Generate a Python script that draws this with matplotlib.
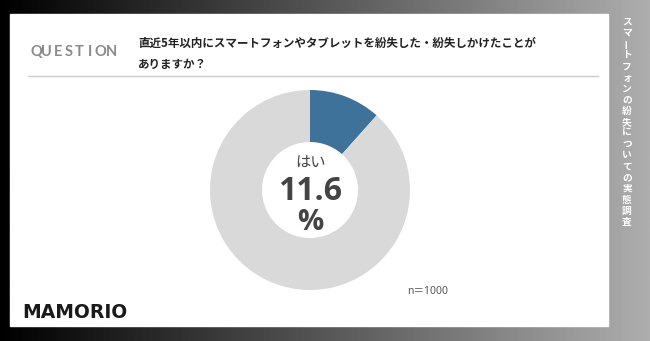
import matplotlib.pyplot as plt
import numpy as np
from matplotlib.patches import Rectangle

plt.rcParams['font.family'] = ['Noto Sans CJK JP', 'DejaVu Sans']

# data
labels = ["はい", "いいえ"]
shares = [11.6, 88.4]
colors = ["#3e729b", "#d9d9d9"]
question = ["直近5年以内にスマートフォンやタブレットを紛失した・紛失しかけたことが",
            "ありますか？"]
side_title = "スマートフォンの紛失についての実態調査"
n_label = "n＝1000"

W, H = 650, 341
fig = plt.figure(figsize=(W / 100, H / 100), dpi=100)

# background in pixel coordinates
bg = fig.add_axes([0, 0, 1, 1])
bg.set_xlim(0, W)
bg.set_ylim(H, 0)
bg.axis("off")
grad = np.linspace(0.0, 0.68, 256).reshape(1, -1)
bg.imshow(grad, cmap="gray", vmin=0, vmax=1, extent=[0, W, H, 0], aspect="auto")
bg.add_patch(Rectangle((10, 14), 598, 312, color="white", zorder=2))
bg.plot([28, 598], [76, 76], color="#cccccc", lw=1, zorder=3)

# spaced-out "QUESTION" label
for i, ch in enumerate("QUESTION"):
    bg.text(36 + i * 10.8, 52, ch, color="#8a8a8a", fontsize=10.5,
            fontweight="bold", ha="center", va="center", zorder=4,
            family=["Lato", "DejaVu Sans"])
bg.text(138, 43, question[0], fontsize=8.3, fontweight="bold", color="#222222",
        ha="left", va="center", zorder=4)
bg.text(138, 64, question[1], fontsize=8.3, fontweight="bold", color="#222222",
        ha="left", va="center", zorder=4)
bg.text(407, 292, n_label, fontsize=7.5, color="#555555", ha="left",
        va="center", zorder=4, family=["Noto Sans", "Noto Sans CJK JP"])
bg.text(22, 312, "MAMORIO", fontsize=13.5, fontweight="bold", color="#1a1a1a",
        ha="left", va="center", zorder=4, family=["DejaVu Sans"])

# vertical title on the right strip
for i, ch in enumerate(side_title):
    rot = 90 if ch == "ー" else 0
    bg.text(627, 22 + i * 11.1, ch, fontsize=7, fontweight="bold",
            color="white", ha="center", va="center", rotation=rot, zorder=4)

# donut
ax = fig.add_axes([210 / W, (H - 290) / H, 200 / W, 200 / H])
ax.pie(shares, colors=colors, startangle=90, counterclock=False,
       wedgeprops=dict(width=0.52, edgecolor="none"))
ax.set_xlim(-1, 1)
ax.set_ylim(-1, 1)
ax.set_aspect("equal")
ax.text(0, 0.27, labels[0], ha="center", va="center", fontsize=11, color="#444444")
ax.text(0, -0.01, f"{shares[0]}", ha="center", va="center", fontsize=23,
        fontweight="bold", color="#444444", family=["Open Sans", "DejaVu Sans"])
ax.text(0, -0.32, "%", ha="center", va="center", fontsize=21,
        fontweight="bold", color="#444444", family=["Open Sans", "DejaVu Sans"])

fig.savefig("out.png", dpi=100)
